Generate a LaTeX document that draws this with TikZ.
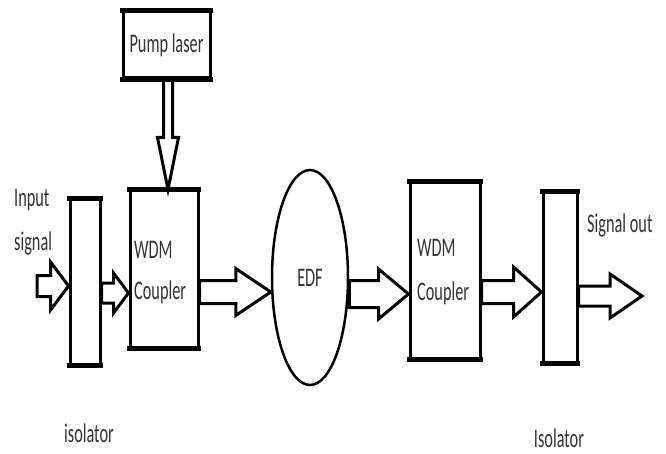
\documentclass[tikz,border=0pt]{standalone}
\usepackage{fontspec}
\setmainfont{Carlito}
\usetikzlibrary{calc,shapes.geometric}
\newcommand{\stxt}[1]{\scalebox{1}[1.65]{#1}}
\begin{document}
\begin{tikzpicture}[x=1pt,y=-1pt,
  box/.style={draw, line width=3pt, rectangle, inner sep=0pt},
  lbl/.style={inner sep=0pt, font=\fontsize{16.3}{18}\selectfont, text=black!80},
  edge/.style={line width=5.5pt},
  harrow/.style n args={3}{line width=3pt, line join=miter, to path={let \p1=(\tikztostart), \p2=(\tikztotarget) in
    (\x1,\y1+#1) -- (\x2-#2,\y1+#1) -- (\x2-#2,\y1+#3) -- (\x2,\y1) -- (\x2-#2,\y1-#3) -- (\x2-#2,\y1-#1) -- (\x1,\y1-#1) -- cycle}},
  varrow/.style n args={3}{line width=3pt, line join=miter, to path={let \p1=(\tikztostart), \p2=(\tikztotarget) in
    (\x1+#1,\y1) -- (\x1+#1,\y2+#2) -- (\x1+#3,\y2+#2) -- (\x1,\y2) -- (\x1-#3,\y2+#2) -- (\x1-#1,\y2+#2) -- (\x1-#1,\y1) -- cycle}}
]
\useasboundingbox (0,0) rectangle (666,454);

% boxes
\node[box, lbl, draw=black, minimum width=87pt, minimum height=66pt] (pump) at (166.5,45) {\stxt{Pump laser}};
\node[box, minimum width=68pt, minimum height=156pt] (wdm1) at (164,269) {};
\node[box, minimum width=30pt, minimum height=164pt] (iso1) at (85,282) {};
\node[draw, ellipse, line width=2.5pt, inner sep=0pt, minimum width=76pt, minimum height=215pt, lbl, draw=black] (edf) at (310,277.5) {\stxt{EDF}};
\node[box, minimum width=70pt, minimum height=175pt] (wdm2) at (445,270.5) {};
\node[box, minimum width=34pt, minimum height=169pt] (iso2) at (560,277.5) {};

% thicker horizontal edges
\foreach \n in {pump,wdm1,iso1,wdm2,iso2}{
  \draw[edge] ([xshift=-1.5pt]\n.north west) -- ([xshift=1.5pt]\n.north east);
  \draw[edge] ([xshift=-1.5pt]\n.south west) -- ([xshift=1.5pt]\n.south east);
}

% texts
\node[lbl, anchor=west] (w1a) at (134,250) {\stxt{WDM}};
\node[lbl, anchor=west] (w1b) at (134,292) {\stxt{Coupler}};
\node[lbl, anchor=west] (w2a) at (417,248) {\stxt{WDM}};
\node[lbl, anchor=west] (w2b) at (417,293) {\stxt{Coupler}};
\node[lbl, anchor=west] (in1) at (14,200) {\stxt{Input}};
\node[lbl, anchor=west] (in2) at (14,243) {\stxt{signal}};
\node[lbl, anchor=west] (sout) at (587,225) {\stxt{Signal out}};
\node[lbl] (isoa) at (89,433) {\stxt{isolator}};
\node[lbl] (isob) at (559,438) {\stxt{Isolator}};

% connector rows
\coordinate (inp) at (37,286);
\coordinate (r2) at (0,293);
\coordinate (r3) at (0,292);
\coordinate (r4) at (0,294);
\coordinate (r5) at (0,292);
\coordinate (outp) at (642,296);
\coordinate (px) at (168,0);

\draw[harrow={10.5pt}{18pt}{24pt}] (inp) to (iso1.west |- inp);
\draw[harrow={10pt}{15pt}{20pt}] (iso1.east |- r2) to (wdm1.west |- r2);
\draw[harrow={11.5pt}{35pt}{23.5pt}] (wdm1.east |- r3) to (edf.west |- r3);
\draw[harrow={13.5pt}{30pt}{25pt}] (edf.east |- r4) to (wdm2.west |- r4);
\draw[harrow={11.5pt}{28pt}{25pt}] (wdm2.east |- r5) to (iso2.west |- r5);
\draw[harrow={10pt}{32pt}{22pt}] (iso2.east |- outp) to (outp);
\draw[varrow={4.5pt}{52pt}{10.5pt}] (pump.south -| px) to (wdm1.north -| px);
\end{tikzpicture}
\end{document}
